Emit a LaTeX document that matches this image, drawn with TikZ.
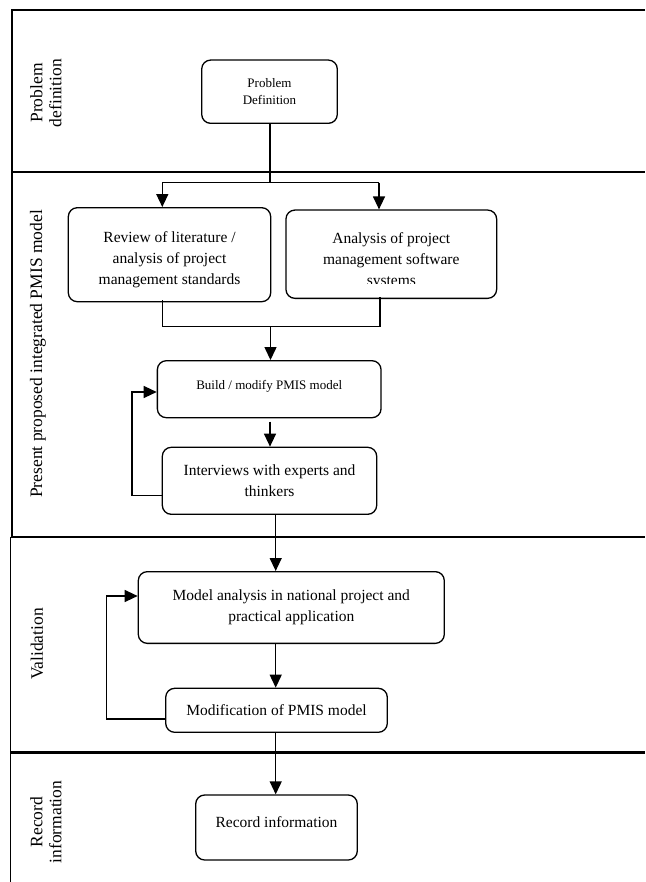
\documentclass[tikz,border=0pt]{standalone}
\usepackage{fontspec}
\setmainfont{Liberation Serif}
\usetikzlibrary{arrows.meta}
\tikzset{
  frameline/.style={line width=1.5pt},
  box/.style={draw, rounded corners=9pt, line width=1.3pt, inner sep=0pt, align=center},
  bigtxt/.style={font=\fontsize{15.5}{21}\selectfont},
  smalltxt/.style={font=\fontsize{13}{17}\selectfont},
  lanetxt/.style={font=\fontsize{17.5}{19}\selectfont, rotate=90, align=center},
  conn/.style={line width=1.3pt},
  arr/.style={line width=1.3pt, -{Triangle[length=13pt,width=12pt]}},
}
\begin{document}
\begin{tikzpicture}[x=1pt,y=-1pt]
\useasboundingbox (0,0) rectangle (645,882);
% frame and lanes
\draw[frameline] (645,10) -- (12,10) -- (12,537);
\draw[frameline] (12,172) -- (645,172);
\draw[line width=2pt] (10.5,537) -- (645,537);
\draw[frameline] (10.5,537) -- (10.5,882);
\draw[line width=2.6pt] (10.5,752.3) -- (645,752.3);
% lane labels
\node[lanetxt] (l1) at (46,93) {Problem\\definition};
\node[lanetxt] (l2) at (38,354) {Present proposed integrated PMIS model};
\node[lanetxt] (l3) at (37,644) {Validation};
\node[lanetxt] (l4) at (46,822) {Record\\information};
% boxes
\node[box, smalltxt, minimum width=135.6pt, minimum height=63.3pt] (pd) at (269.5,91.7) {Problem\\Definition};
\node[box, minimum width=202.4pt, minimum height=94pt] (lit) at (169.5,254.7) {};
\begin{scope}
  \clip (60,200) rectangle (280,287.5);
  \node[bigtxt, align=center] (littext) at (169.5,259.5) {Review of literature /\\analysis of project\\management standards};
\end{scope}
\node[box, minimum width=210.7pt, minimum height=88.3pt] (sw) at (391.3,254.2) {};
\begin{scope}
  \clip (280,200) rectangle (500,283);
  \node[bigtxt, align=center] (swtext) at (391.3,261) {Analysis of project\\management software\\systems};
\end{scope}
\node[box, smalltxt, minimum width=223.7pt, minimum height=57pt, text depth=9.5pt] (build) at (269.2,389.2) {Build / modify PMIS model};
\node[box, bigtxt, minimum width=214.4pt, minimum height=67pt] (int) at (269.5,480.8) {Interviews with experts and\\thinkers};
\node[box, bigtxt, minimum width=306pt, minimum height=71.7pt] (model) at (291.3,607.5) {Model analysis in national project and\\practical application};
\node[box, bigtxt, minimum width=221.6pt, minimum height=44pt] (mod) at (276.5,710.3) {Modification of PMIS model};
\node[box, bigtxt, minimum width=161.6pt, minimum height=65pt, text depth=11pt] (rec) at (276.5,827.5) {Record information};
% connectors
\coordinate (sL) at (162.3,182.7);
\coordinate (sR) at (379,182.7);
\coordinate (sM) at (270,182.7);
\draw[conn] (pd.south -| sM) -- (sM);
\draw[conn] (sL) -- (sR);
\draw[arr] (sL) -- (sL |- lit.north);
\draw[arr] (sR) -- (sR |- sw.north);
\coordinate (mL) at (162.3,326.7);
\coordinate (mR) at (380,326.7);
\coordinate (mM) at (270.5,326.7);
\draw[conn] ([yshift=2pt]mL |- lit.south) -- (mL) -- (mR) -- ([yshift=2pt]mR |- sw.south);
\draw[arr] (mM) -- (mM |- build.north);
\coordinate (bI) at (270,421.7);
\draw[arr] (bI) -- (bI |- int.north);
\coordinate (colB) at (275.7,0);
\draw[arr] (int.south -| colB) -- (model.north -| colB);
\draw[arr] (model.south -| colB) -- (mod.north -| colB);
\draw[arr] (mod.south -| colB) -- (rec.north -| colB);
% feedback loops
\coordinate (f1a) at (132,495.3);
\coordinate (f1b) at (132,392);
\draw[arr] (int.west |- f1a) -- (f1a) -- (f1b) -- (build.west |- f1b);
\coordinate (f2a) at (106.7,719);
\coordinate (f2b) at (106.7,596);
\draw[arr] (mod.west |- f2a) -- (f2a) -- (f2b) -- (model.west |- f2b);
\end{tikzpicture}
\end{document}
